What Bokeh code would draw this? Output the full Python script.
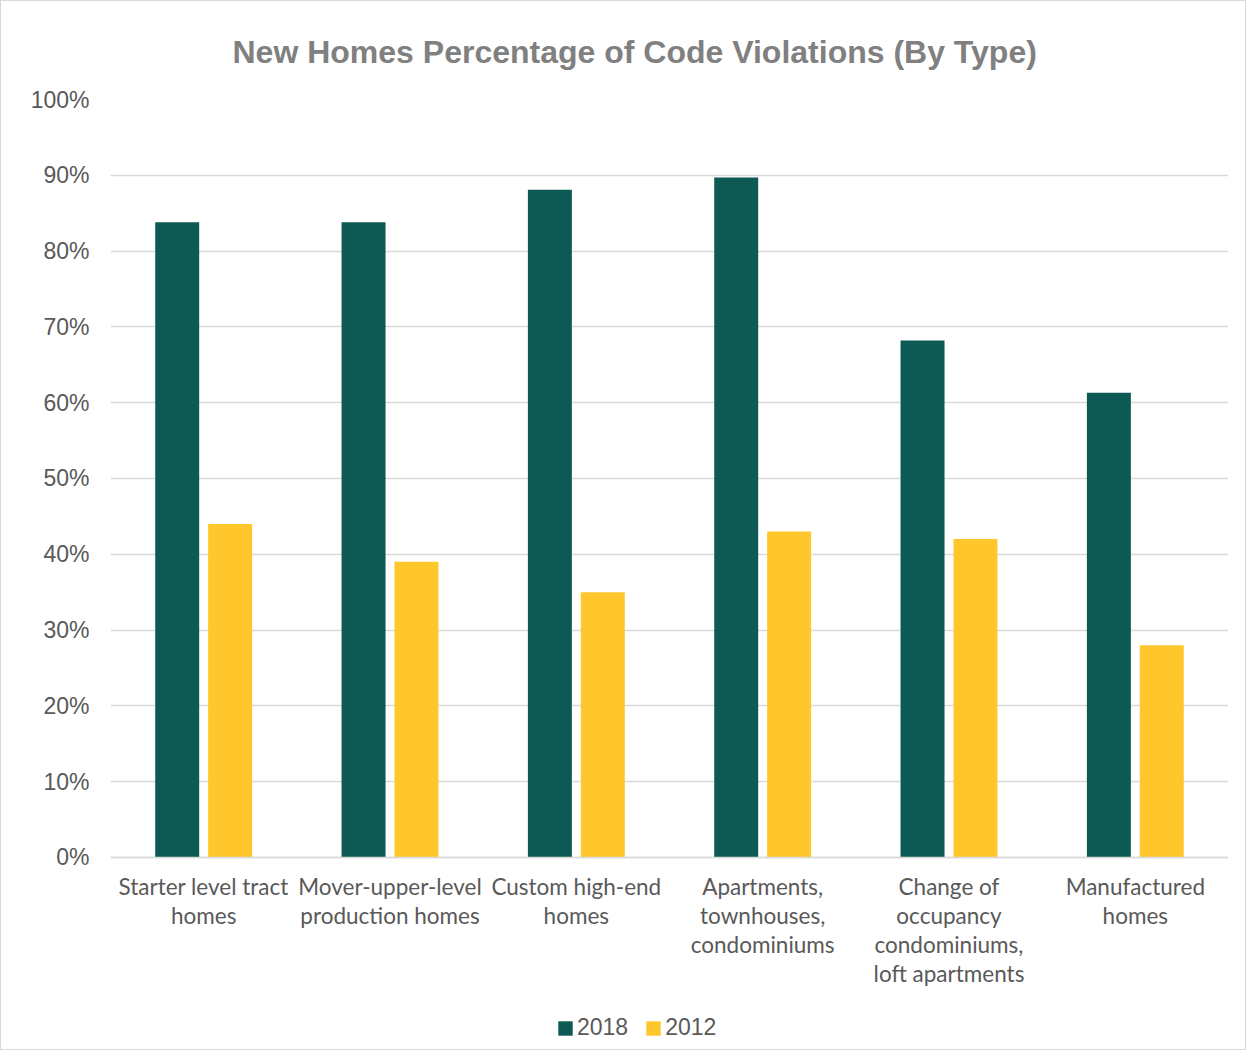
from bokeh.plotting import figure
from bokeh.models import (ColumnDataSource, FactorRange, FixedTicker, NumeralTickFormatter,
                          Legend, LegendItem)
from bokeh.transform import dodge
from bokeh.embed import file_html
from bokeh.resources import INLINE

categories = ["Starter level tract\nhomes", "Mover-upper-level\nproduction homes",
              "Custom high-end\nhomes", "Apartments,\ntownhouses,\ncondominiums",
              "Change of\noccupancy\ncondominiums,\nloft apartments", "Manufactured\nhomes"]
series_names = ["2018", "2012"]
values_2018 = [0.838, 0.838, 0.881, 0.897, 0.682, 0.613]
values_2012 = [0.44, 0.39, 0.35, 0.43, 0.42, 0.28]
y_ticks = [0, 0.1, 0.2, 0.3, 0.4, 0.5, 0.6, 0.7, 0.8, 0.9, 1.0]

title_text = "New Homes Percentage of Code Violations (By Type)"
GREEN = "#0C5A53"
YELLOW = "#FFC72C"
GRID = "#D9D9D9"
TXT = "#595959"

source = ColumnDataSource(dict(cat=categories, v2018=values_2018, v2012=values_2012))

# y range extends below 0 to leave room for the category labels and legend
p = figure(x_range=FactorRange(*categories, range_padding=0), y_range=(-0.256, 1.0),
           width=1246, height=1050, output_backend="svg", toolbar_location=None,
           min_border_left=109, min_border_right=19, min_border_top=98, min_border_bottom=0,
           title=title_text)
p.styles = {"border": "1px solid #D9D9D9"}
p.outline_line_color = None
p.background_fill_color = "white"
p.border_fill_color = "white"

p.title.align = "left"
p.title.offset = 122
p.title.standoff = 60
p.title.text_font = "Liberation Sans"
p.title.text_font_style = "bold"
p.title.text_font_size = "32px"
p.title.text_color = "#808080"

r1 = p.vbar(x=dodge("cat", -0.142, range=p.x_range), top="v2018", width=0.236,
            source=source, color=GREEN, line_color=None)
r2 = p.vbar(x=dodge("cat", 0.142, range=p.x_range), top="v2012", width=0.236,
            source=source, color=YELLOW, line_color=None)

# y axis
p.yaxis.ticker = FixedTicker(ticks=y_ticks)
p.yaxis.formatter = NumeralTickFormatter(format="0%")
p.yaxis.axis_line_color = None
p.yaxis.major_tick_line_color = None
p.yaxis.major_tick_out = 0
p.yaxis.major_tick_in = 0
p.yaxis.minor_tick_line_color = None
p.yaxis.major_label_standoff = 21
p.yaxis.major_label_text_font = "Liberation Sans"
p.yaxis.major_label_text_font_size = "23px"
p.yaxis.major_label_text_color = TXT

p.ygrid.ticker = FixedTicker(ticks=y_ticks)
p.ygrid.grid_line_color = GRID
p.ygrid.grid_line_width = 1.5
p.xgrid.grid_line_color = None

# x axis drawn at the 0% line
p.xaxis.fixed_location = 0
p.xaxis.axis_line_color = GRID
p.xaxis.axis_line_width = 1.5
p.xaxis.major_tick_line_color = None
p.xaxis.major_tick_out = 0
p.xaxis.major_tick_in = 0
p.xaxis.minor_tick_line_color = None
p.xaxis.major_label_standoff = 16
p.xaxis.major_label_text_font = "Lato"
p.xaxis.major_label_text_font_size = "22.5px"
p.xaxis.major_label_text_color = TXT
p.xaxis.major_label_text_line_height = 1.07
p.xaxis.major_label_orientation = "horizontal"

legend = Legend(items=[LegendItem(label=series_names[0], renderers=[r1]),
                       LegendItem(label=series_names[1], renderers=[r2])],
                location=(446, 10), orientation="horizontal",
                glyph_width=18, glyph_height=18, label_standoff=3, spacing=16,
                padding=0, margin=0, border_line_color=None, background_fill_alpha=0,
                label_text_font="Liberation Sans", label_text_font_size="23px",
                label_text_color=TXT)
p.add_layout(legend, "center")

open("out.html", "w").write(file_html(p, INLINE))
